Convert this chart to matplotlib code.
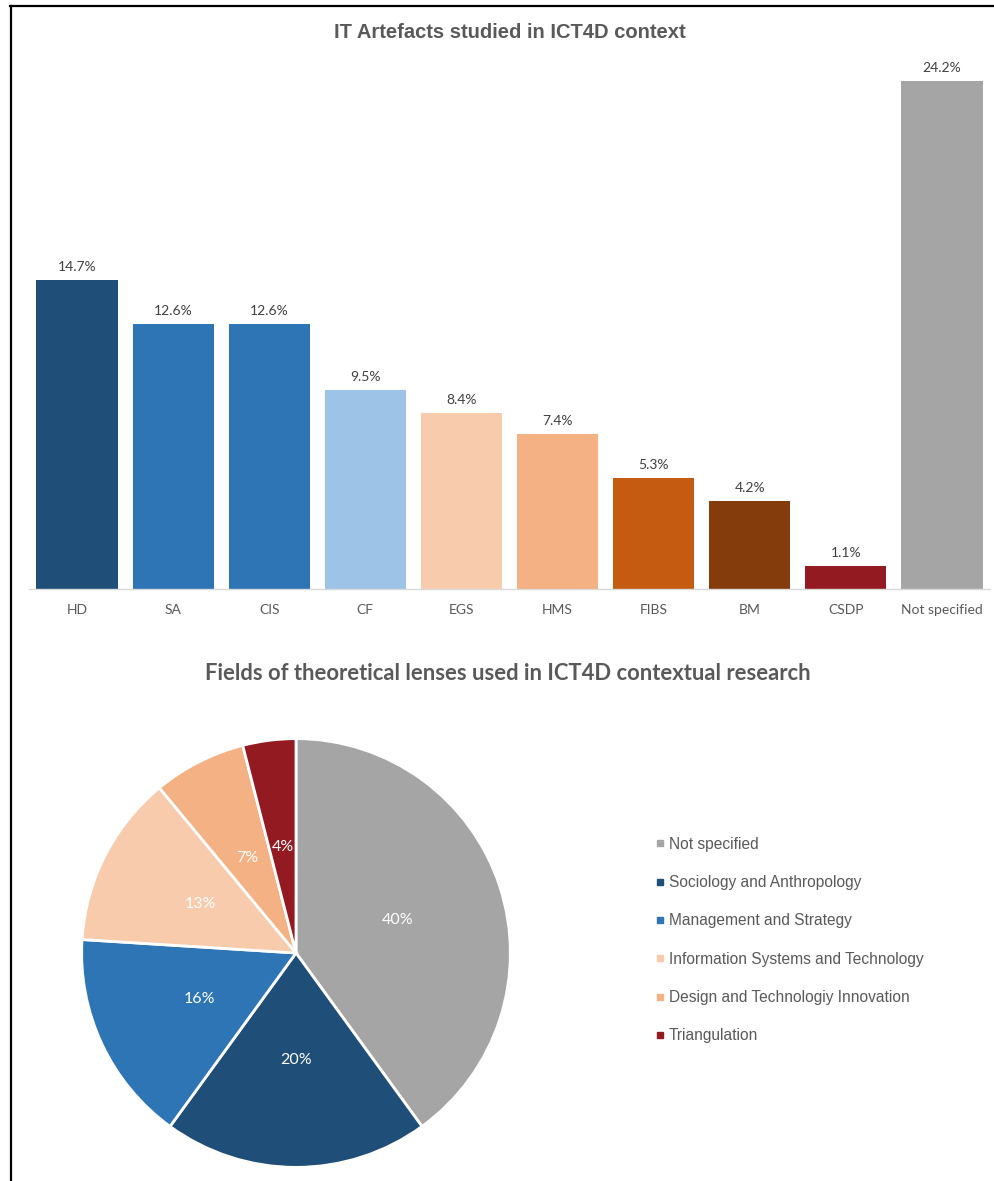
import matplotlib
matplotlib.use("Agg")
import matplotlib.pyplot as plt
from matplotlib.lines import Line2D

# bar chart data
artefacts = ["HD", "SA", "CIS", "CF", "EGS", "HMS", "FIBS", "BM", "CSDP", "Not specified"]
artefact_share = [14.7, 12.6, 12.6, 9.5, 8.4, 7.4, 5.3, 4.2, 1.1, 24.2]
bar_colors = ["#1F4E79", "#2E75B6", "#2E75B6", "#9DC3E6", "#F8CBAD",
              "#F4B183", "#C55A11", "#843C0C", "#941A22", "#A5A5A5"]

# pie chart data
fields = ["Not specified", "Sociology and Anthropology", "Management and Strategy",
          "Information Systems and Technology", "Design and Technologiy Innovation",
          "Triangulation"]
field_share = [40, 20, 16, 13, 7, 4]
pie_colors = ["#A5A5A5", "#1F4E79", "#2E75B6", "#F8CBAD", "#F4B183", "#941A22"]

W, H = 994, 1181
fig = plt.figure(figsize=(W / 100, H / 100), dpi=100)

def box(x0, y0, x1, y1):
    # pixel box (top-left origin) -> figure fraction
    return [x0 / W, 1 - y1 / H, (x1 - x0) / W, (y1 - y0) / H]

# frame lines (left + top)
fig.add_artist(Line2D([10.5 / W, 10.5 / W], [0, 1 - 5.5 / H], color="black", lw=1.6,
                      transform=fig.transFigure))
fig.add_artist(Line2D([10 / W, 1], [1 - 5.5 / H, 1 - 5.5 / H], color="black", lw=1.6,
                      transform=fig.transFigure))

# ---- bar chart ----
ax1 = fig.add_axes(box(29, 43, 990, 589))
bars = ax1.bar(range(len(artefacts)), artefact_share, width=0.845, color=bar_colors)
ax1.set_xlim(-0.5, len(artefacts) - 0.5)
ax1.set_ylim(0, 26)
ax1.bar_label(bars, labels=[f"{v:.1f}%" for v in artefact_share], padding=5,
              fontsize=10, color="#404040", family="Lato")
ax1.set_xticks(range(len(artefacts)))
ax1.set_xticklabels(artefacts, fontsize=10, color="#595959", family="Lato")
ax1.tick_params(axis="x", length=0, pad=11)
ax1.set_yticks([])
for s in ["top", "left", "right"]:
    ax1.spines[s].set_visible(False)
ax1.spines["bottom"].set_color("#D9D9D9")
ax1.spines["bottom"].set_linewidth(1)

fig.text(510 / W, 1 - 32 / H, "IT Artefacts studied in ICT4D context", ha="center", va="center",
         fontsize=14.5, fontweight="bold", color="#595959", family="Liberation Sans")

# ---- pie chart ----
fig.text(508 / W, 1 - 673 / H, "Fields of theoretical lenses used in ICT4D contextual research",
         ha="center", va="center", fontsize=15.8, fontweight="bold", color="#595959", family="Lato")

ax2 = fig.add_axes(box(81, 738, 511, 1168))
wedges, texts, autotexts = ax2.pie(field_share, colors=pie_colors, startangle=90, counterclock=False,
                                   autopct="%d%%", pctdistance=0.5,
                                   wedgeprops=dict(edgecolor="white", linewidth=2),
                                   textprops=dict(color="white", fontsize=11.5, family="Lato"))
ax2.set_xlim(-1.003, 1.003)
ax2.set_ylim(-1.003, 1.003)

handles = [Line2D([], [], marker="s", linestyle="none", markersize=4.5, color=c) for c in pie_colors]
leg = fig.legend(handles, fields, loc="center left", bbox_to_anchor=(655 / W, 1 - 940 / H),
                 frameon=False, handlelength=0.6, handletextpad=0.3,
                 labelspacing=1.5, borderpad=0, borderaxespad=0,
                 prop=dict(family="Liberation Sans", size=11.2))
for t in leg.get_texts():
    t.set_color("#595959")

fig.savefig("out.png", dpi=100)
